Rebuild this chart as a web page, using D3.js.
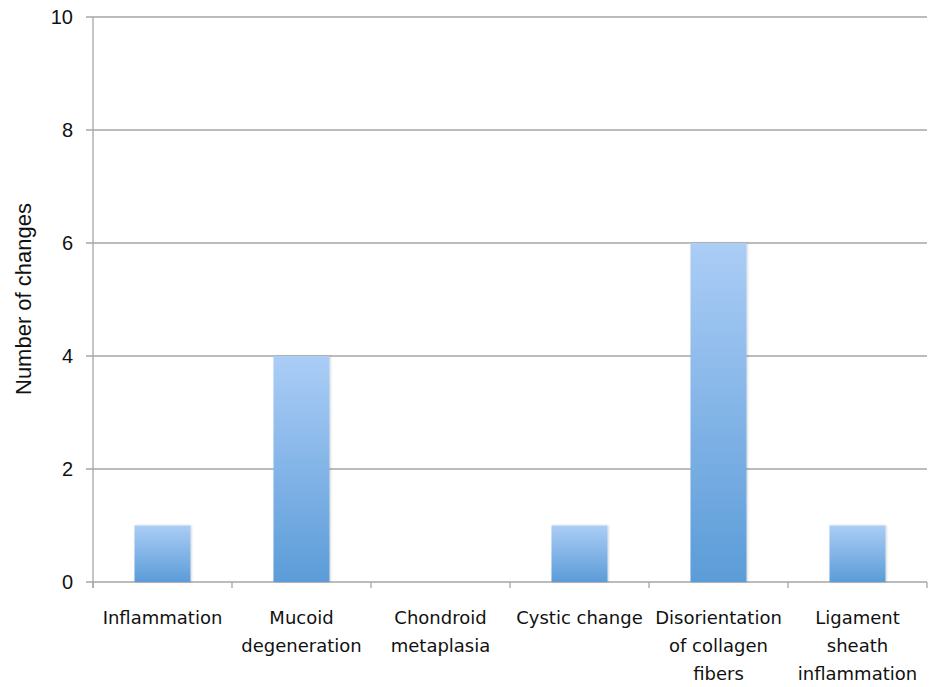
<!DOCTYPE html>
<html><head><meta charset="utf-8">
<script src="https://cdn.jsdelivr.net/npm/d3@7"></script>
<style>body{margin:0;background:#fff}</style>
</head><body>
<svg id="c" width="932" height="687"></svg>
<script>
const categories = [["Inflammation"],["Mucoid","degeneration"],["Chondroid","metaplasia"],["Cystic change"],["Disorientation","of collagen","fibers"],["Ligament","sheath","inflammation"]];
const values = [1,4,0,1,6,1];
const yTicks = [0,2,4,6,8,10];
const yTitle = "Number of changes";

const svg = d3.select("#c");
const m = {l:93, r:927, t:17, b:582};
const x = d3.scaleBand().domain(d3.range(categories.length)).range([m.l,m.r]).paddingInner(0).paddingOuter(0);
const y = d3.scaleLinear().domain([0,10]).range([m.b,m.t]);

const defs = svg.append("defs");
const g = defs.append("linearGradient").attr("id","bg").attr("x1",0).attr("y1",0).attr("x2",0).attr("y2",1);
g.append("stop").attr("offset","0%").attr("stop-color","#abcdf6");
g.append("stop").attr("offset","100%").attr("stop-color","#5b9cd8");
const f = defs.append("filter").attr("id","sh").attr("x","-20%").attr("y","-10%").attr("width","140%").attr("height","120%");
f.append("feDropShadow").attr("dx",1).attr("dy",0).attr("stdDeviation",1.2).attr("flood-color","#000").attr("flood-opacity",0.18);

// gridlines
svg.append("g").selectAll("line").data(yTicks).join("line")
  .attr("x1",m.l-7).attr("x2",m.r).attr("y1",d=>y(d)).attr("y2",d=>y(d))
  .attr("stroke","#a6a6a6").attr("stroke-width",1.3);
// y axis line
svg.append("line").attr("x1",m.l).attr("x2",m.l).attr("y1",m.t).attr("y2",m.b+6).attr("stroke","#a6a6a6").attr("stroke-width",1.3);
// x ticks
svg.append("g").selectAll("line").data(d3.range(categories.length+1)).join("line")
  .attr("x1",i=>m.l+i*x.bandwidth()).attr("x2",i=>m.l+i*x.bandwidth())
  .attr("y1",m.b).attr("y2",m.b+6).attr("stroke","#a6a6a6").attr("stroke-width",1.3);

// bars
const bw = 56;
svg.append("g").selectAll("rect").data(values).join("rect")
  .attr("x",(d,i)=>x(i)+x.bandwidth()/2-bw/2).attr("width",bw)
  .attr("y",d=>y(d)).attr("height",d=>y(0)-y(d))
  .attr("fill","url(#bg)").attr("filter","url(#sh)");

// y tick labels
svg.append("g").selectAll("text").data(yTicks).join("text")
  .attr("x",73).attr("y",d=>y(d)).attr("dy","0.36em").attr("text-anchor","end")
  .attr("font-family","Liberation Sans, Arial, sans-serif").attr("font-size",20).attr("fill","#111")
  .text(d=>d);

// x labels
const xl = svg.append("g").selectAll("text").data(categories).join("text")
  .attr("x",(d,i)=>x(i)+x.bandwidth()/2).attr("y",624).attr("text-anchor","middle")
  .attr("font-family","'DejaVu Sans', sans-serif").attr("font-size",18).attr("fill","#111");
xl.each(function(lines){
  d3.select(this).selectAll("tspan").data(lines).join("tspan")
    .attr("x",d3.select(this).attr("x")).attr("dy",(d,j)=>j===0?0:28).text(d=>d);
});

// y title
svg.append("text").attr("transform","translate(31,299) rotate(-90)").attr("text-anchor","middle")
  .attr("font-family","Liberation Sans, Arial, sans-serif").attr("font-size",22).attr("fill","#111")
  .text(yTitle);
</script>
</body></html>
